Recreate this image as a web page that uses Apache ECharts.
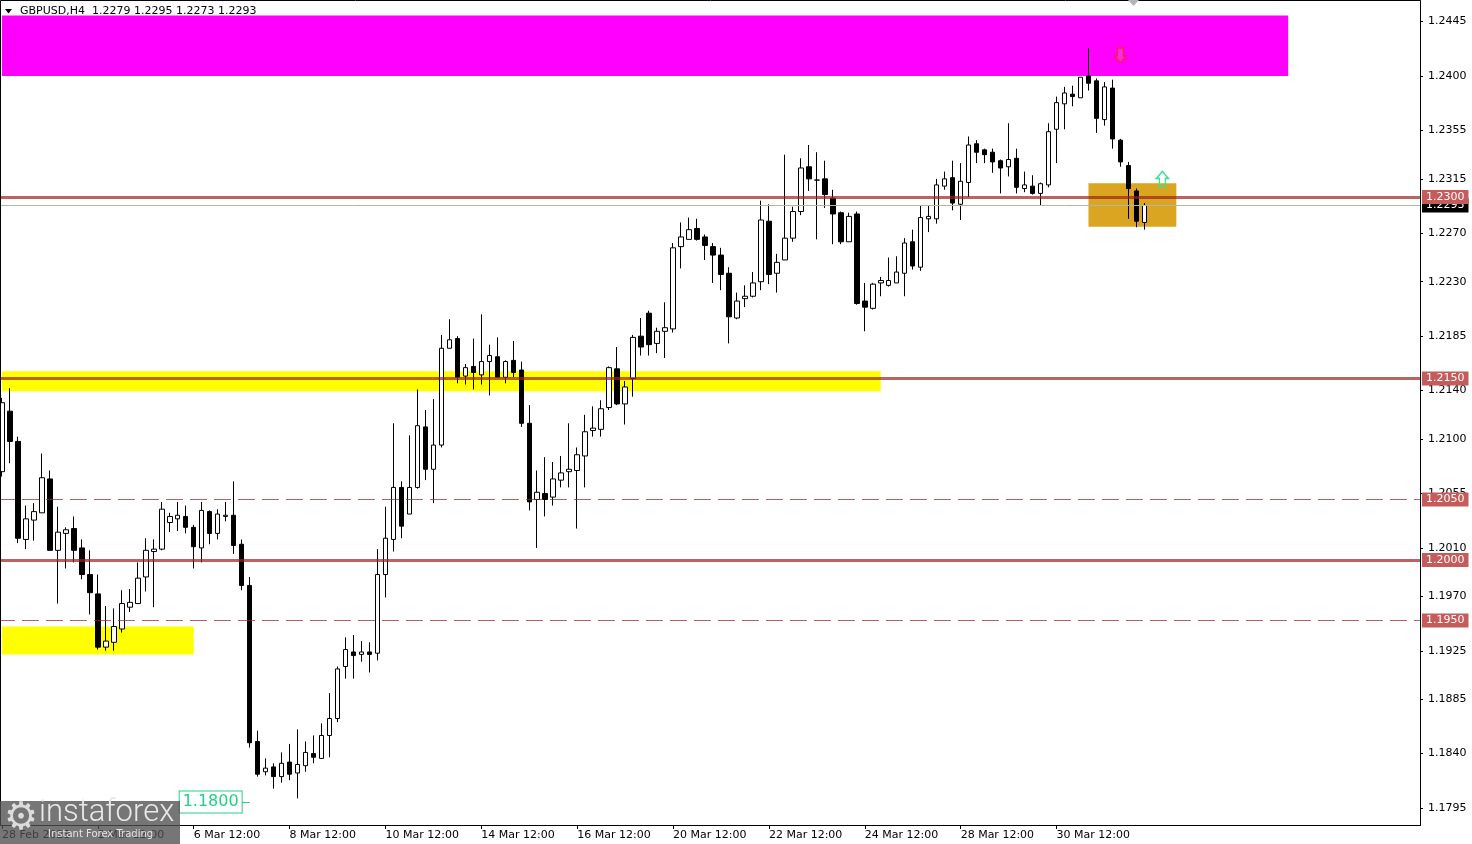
<!DOCTYPE html>
<html>
<head>
<meta charset="utf-8">
<script src="https://cdn.jsdelivr.net/npm/echarts@6/dist/echarts.min.js"></script>
<style>
html,body{margin:0;padding:0;background:#fff;overflow:hidden;}
#wrap{position:relative;width:1472px;height:844px;overflow:hidden;}
#chart{position:absolute;left:-2px;top:0;width:1474px;height:844px;}
</style>
</head>
<body>
<div id="wrap"><div id="chart"></div></div>
<script>
// ---- data (GBPUSD, H4) ----
const symbolName = 'GBPUSD,H4';
const xTickLabels = ['28 Feb 2023','2 Mar 12:00','6 Mar 12:00','8 Mar 12:00','10 Mar 12:00','14 Mar 12:00','16 Mar 12:00','20 Mar 12:00','22 Mar 12:00','24 Mar 12:00','28 Mar 12:00','30 Mar 12:00'];
const yTickValues = [1.2445,1.2400,1.2355,1.2315,1.2270,1.2230,1.2185,1.2140,1.2100,1.2055,1.2010,1.1970,1.1925,1.1885,1.1840,1.1795];

const opens = [1.2073,1.2123,1.2098,1.2017,1.2033,1.2039,1.2067,1.2008,1.2022,1.2026,
1.2010,1.1988,1.1972,1.1928,1.1932,1.1943,1.1961,1.1964,1.1986,1.2007,
1.2009,1.2031,1.2034,1.2036,1.2027,1.2010,1.2040,1.2022,1.2036,1.2037,
1.2013,1.1979,1.1850,1.1825,1.1829,1.1821,1.1833,1.1824,1.1830,1.1840,
1.1836,1.1855,1.1869,1.1912,1.1924,1.1922,1.1924,1.1923,1.1988,1.2017,
1.2060,1.2038,1.2060,1.2110,1.2075,1.2095,1.2175,1.2183,1.2152,1.2160,
1.2153,1.2164,1.2168,1.2151,1.2165,1.2157,1.2113,1.2050,1.2055,1.2052,
1.2066,1.2073,1.2074,1.2086,1.2107,1.2108,1.2126,1.2158,1.2129,1.2150,
1.2185,1.2204,1.2179,1.2189,1.2191,1.2259,1.2265,1.2274,1.2267,1.2259,
1.2252,1.2237,1.2200,1.2216,1.2218,1.2230,1.2280,1.2237,1.2248,1.2266,
1.2288,1.2325,1.2314,1.2315,1.2299,1.2287,1.2263,1.2286,1.2214,1.2208,
1.2229,1.2227,1.2229,1.2237,1.2263,1.2242,1.2282,1.2282,1.2309,1.2316,
1.2294,1.2312,1.2344,1.2339,1.2337,1.2330,1.2325,1.2332,1.2307,1.2309,
1.2303,1.2310,1.2356,1.2377,1.2385,1.2382,1.2400,1.2396,1.2364,1.2390,
1.2347,1.2326,1.2305,1.2279];
const closes = [1.2130,1.2098,1.2018,1.2034,1.2040,1.2068,1.2008,1.2023,1.2025,1.2008,
1.1988,1.1973,1.1928,1.1933,1.1945,1.1964,1.1965,1.1985,1.2008,1.2009,
1.2042,1.2036,1.2037,1.2027,1.2011,1.2041,1.2022,1.2038,1.2037,1.2012,
1.1979,1.1849,1.1823,1.1828,1.1821,1.1832,1.1823,1.1831,1.1841,1.1837,
1.1855,1.1869,1.1910,1.1926,1.1921,1.1924,1.1922,1.1988,1.2018,1.2060,
1.2028,1.2060,1.2111,1.2075,1.2095,1.2175,1.2182,1.2151,1.2159,1.2155,
1.2164,1.2169,1.2151,1.2164,1.2155,1.2113,1.2048,1.2056,1.2050,1.2067,
1.2072,1.2075,1.2087,1.2106,1.2109,1.2125,1.2159,1.2129,1.2143,1.2184,
1.2176,1.2178,1.2189,1.2192,1.2258,1.2267,1.2273,1.2265,1.2260,1.2252,
1.2236,1.2201,1.2214,1.2218,1.2229,1.2281,1.2236,1.2246,1.2266,1.2288,
1.2324,1.2315,1.2314,1.2302,1.2286,1.2263,1.2284,1.2212,1.2209,1.2228,
1.2231,1.2231,1.2238,1.2262,1.2243,1.2283,1.2284,1.2310,1.2315,1.2295,
1.2313,1.2343,1.2337,1.2335,1.2329,1.2324,1.2331,1.2308,1.2310,1.2303,
1.2311,1.2354,1.2378,1.2386,1.2383,1.2399,1.2394,1.2365,1.2391,1.2348,
1.2329,1.2307,1.2280,1.2293];
const lows = [1.2069,1.2080,1.2014,1.2009,1.2016,1.2039,1.2008,1.1964,1.1993,1.1998,
1.1984,1.1955,1.1926,1.1925,1.1925,1.1940,1.1957,1.1964,1.1974,1.1961,
1.2008,1.2023,1.2024,1.2022,1.1993,1.1998,1.2013,1.2017,1.2032,1.2005,
1.1975,1.1845,1.1821,1.1822,1.1811,1.1816,1.1818,1.1803,1.1825,1.1832,
1.1836,1.1837,1.1866,1.1902,1.1902,1.1916,1.1907,1.1917,1.1969,1.2007,
1.2018,1.2038,1.2059,1.2066,1.2047,1.2093,1.2175,1.2146,1.2145,1.2141,
1.2145,1.2136,1.2151,1.2146,1.2151,1.2110,1.2041,1.2010,1.2036,1.2045,
1.2060,1.2060,1.2026,1.2060,1.2102,1.2102,1.2124,1.2128,1.2112,1.2135,
1.2169,1.2169,1.2171,1.2167,1.2188,1.2241,1.2265,1.2264,1.2248,1.2229,
1.2223,1.2179,1.2199,1.2209,1.2217,1.2223,1.2228,1.2221,1.2248,1.2263,
1.2285,1.2305,1.2265,1.2291,1.2261,1.2261,1.2263,1.2211,1.2189,1.2207,
1.2218,1.2226,1.2229,1.2218,1.2240,1.2239,1.2271,1.2278,1.2306,1.2289,
1.2281,1.2300,1.2328,1.2328,1.2320,1.2303,1.2317,1.2303,1.2304,1.2302,
1.2293,1.2308,1.2328,1.2356,1.2375,1.2382,1.2388,1.2353,1.2359,1.2340,
1.2325,1.2282,1.2275,1.2273];
const highs = [1.2134,1.2142,1.2102,1.2045,1.2047,1.2088,1.2074,1.2044,1.2027,1.2036,
1.2017,1.2008,1.1988,1.1962,1.1960,1.1975,1.1976,1.1998,1.2018,1.2017,
1.2048,1.2039,1.2048,1.2045,1.2029,1.2048,1.2041,1.2042,1.2048,1.2065,
1.2017,1.1986,1.1859,1.1836,1.1832,1.1841,1.1848,1.1860,1.1850,1.1855,
1.1865,1.1890,1.1912,1.1936,1.1938,1.1933,1.1932,1.2009,1.2044,1.2113,
1.2065,1.2103,1.2141,1.2124,1.2133,1.2186,1.2199,1.2185,1.2162,1.2183,
1.2203,1.2178,1.2184,1.2165,1.2181,1.2164,1.2128,1.2074,1.2085,1.2081,
1.2086,1.2113,1.2093,1.2120,1.2127,1.2132,1.2160,1.2176,1.2148,1.2186,
1.2200,1.2206,1.2192,1.2213,1.2262,1.2279,1.2283,1.2282,1.2269,1.2262,
1.2258,1.2242,1.2221,1.2227,1.2238,1.2297,1.2294,1.2253,1.2335,1.2292,
1.2332,1.2343,1.2337,1.2330,1.2306,1.2288,1.2287,1.2288,1.2229,1.2229,
1.2234,1.2250,1.2251,1.2266,1.2273,1.2293,1.2293,1.2315,1.2321,1.2330,
1.2328,1.2350,1.2347,1.2340,1.2340,1.2331,1.2361,1.2340,1.2321,1.2318,
1.2312,1.2361,1.2383,1.2391,1.2392,1.2399,1.2423,1.2398,1.2395,1.2397,
1.2348,1.2329,1.2307,1.2295];

// levels drawn on the chart
const solidLevels = [1.2300, 1.2150, 1.2000];
const dashedLevels = [1.2050, 1.1950];
const currentPrice = 1.2293;
// zones: [startBar, endBar, lowPrice, highPrice]
const zoneMagenta = [0, 161, 1.2400, 1.2450];
const zoneYellowTop = [0, 110, 1.21395, 1.2156];
const zoneYellowBottom = [0, 24, 1.1922, 1.1945];
const zoneGold = [136, 147, 1.22754, 1.23113];
const supportLabel = {bar: 30, price: 1.1800};
const arrowDown = {bar: 140, price: 1.2417};
const arrowUp = {bar: 145, price: 1.2315};

const slotCount = 178;
const slots = [];
for (let i = 0; i < slotCount; i++) slots.push(String(i));
const candles = opens.map((o, i) => [o, closes[i], lows[i], highs[i]]);
const last = candles.length - 1;

const fam = 'DejaVu Sans';
const levelColor = 'rgba(160,32,32,0.7)';
const boxColor = '#c45c5c';
const DX = 2; // chart canvas is shifted 2px to the left of the page

function zone(z, color) {
  return [{xAxis: z[0], yAxis: z[3], itemStyle: {color: color}}, {xAxis: z[1], yAxis: z[2]}];
}
function levelLabel(bg) {
  return {show: true, position: 'end', distance: 2, formatter: p => Number(p.value).toFixed(4),
    backgroundColor: bg, color: '#fff', fontFamily: fam, fontSize: 11, lineHeight: 12, padding: [1, 4, 1, 4]};
}

const chart = echarts.init(document.getElementById('chart'), null, {renderer: 'canvas'});
const option = {
  animation: false,
  backgroundColor: '#ffffff',
  textStyle: {fontFamily: fam},
  title: {
    text: symbolName + '  ' + [opens[last], highs[last], lows[last], closes[last]].map(v => v.toFixed(4)).join(' '),
    left: 20 + DX, top: 6, padding: 0,
    textStyle: {fontSize: 11, fontWeight: 'normal', color: '#000', fontFamily: fam}
  },
  grid: {left: 0, top: 1, width: 1422, height: 824},
  xAxis: {
    type: 'category', data: slots, boundaryGap: true,
    axisLine: {show: true, lineStyle: {color: '#000', width: 1}},
    axisTick: {show: true, alignWithLabel: true, length: 4, lineStyle: {color: '#000'},
      interval: (i) => i % 12 === 0 && i / 12 < xTickLabels.length},
    axisLabel: {interval: 11, align: 'left', margin: 5, fontSize: 11, color: '#000', fontFamily: fam,
      formatter: (v, i) => (i % 12 === 0 && i / 12 < xTickLabels.length) ? xTickLabels[i / 12] : ''},
    splitLine: {show: false}
  },
  yAxis: {
    type: 'value', position: 'right', min: 1.1781, max: 1.2462, scale: true,
    axisLine: {show: true, onZero: false, lineStyle: {color: '#000', width: 1}},
    axisTick: {show: true, length: 3, customValues: yTickValues, lineStyle: {color: '#000'}},
    axisLabel: {customValues: yTickValues, fontSize: 11, color: '#000', margin: 8, fontFamily: fam,
      formatter: v => Number(v).toFixed(4)},
    splitLine: {show: false}
  },
  series: [
    {
      name: 'zones', type: 'line', data: [], z: 1, silent: true,
      markArea: {silent: true, data: [
        zone(zoneMagenta, '#ff00ff'),
        zone(zoneYellowTop, '#ffff00'),
        zone(zoneYellowBottom, '#ffff00'),
        zone(zoneGold, '#daa520')
      ]}
    },
    {
      name: 'GBPUSD', type: 'candlestick', data: candles, z: 2, barWidth: 5,
      itemStyle: {color: '#ffffff', color0: '#000000', borderColor: '#000000', borderColor0: '#000000', borderWidth: 1}
    },
    {
      name: 'levels', type: 'line', data: [], z: 3, silent: true,
      markLine: {
        symbol: ['none', 'none'], silent: true, precision: 4,
        data: [
          {yAxis: currentPrice, lineStyle: {color: '#aab9a0', width: 1, type: 'solid'}, label: levelLabel('#000')},
          ...dashedLevels.map(v => ({yAxis: v, lineStyle: {color: levelColor, width: 1, type: [17, 7]}, label: levelLabel(boxColor)})),
          ...solidLevels.map(v => ({yAxis: v, lineStyle: {color: levelColor, width: 3, type: 'solid'}, label: levelLabel(boxColor)}))
        ]
      }
    },
    {
      name: 'marks', type: 'line', data: [], z: 4, silent: true,
      markLine: {
        symbol: ['none', 'none'], silent: true, precision: 4,
        data: [[
          {coord: [supportLabel.bar, supportLabel.price]},
          {coord: [supportLabel.bar + 1, supportLabel.price]}
        ]],
        lineStyle: {color: '#22d184', width: 1, type: 'solid'},
        label: {show: true, position: 'start', distance: 0, formatter: supportLabel.price.toFixed(4),
          color: '#22d184', fontSize: 16, fontFamily: fam, backgroundColor: '#fff',
          borderColor: '#22d184', borderWidth: 1, padding: [3, 3, 2, 3]}
      },
      markPoint: {
        silent: true, label: {show: false},
        data: [
          {coord: [arrowDown.bar, arrowDown.price], symbol: 'path://M3,0L9,0L9,8L12,8L6,15L0,8L3,8Z', symbolSize: [12, 15],
            itemStyle: {color: 'rgba(255,120,170,0.35)', borderColor: '#f0205a', borderWidth: 1.5}},
          {coord: [arrowUp.bar, arrowUp.price], symbol: 'path://M6,0L12,7L9,7L9,15L3,15L3,7L0,7Z', symbolSize: [12, 15], symbolOffset: [2, 0],
            itemStyle: {color: 'rgba(255,255,255,0)', borderColor: '#3fe096', borderWidth: 1.5}}
        ]
      }
    }
  ],
  graphic: [
    {type: 'rect', silent: true, z: 50, shape: {x: 0.5 + DX, y: 0.5, width: 1420, height: 825}, style: {fill: null, stroke: '#000', lineWidth: 1}},
    {type: 'polygon', silent: true, z: 50, shape: {points: [[5 + DX, 9], [12 + DX, 9], [8.5 + DX, 13.5]]}, style: {fill: '#000'}},
    {type: 'polygon', silent: true, z: 50, shape: {points: [[1128 + DX, 0], [1139 + DX, 0], [1133.5 + DX, 6]]}, style: {fill: '#b4b4b4'}},
    {type: 'rect', silent: true, z: 100, shape: {x: 0, y: 801, width: 180 + DX, height: 43}, style: {fill: 'rgba(80,80,80,0.78)'}},
    {type: 'text', silent: true, z: 101, x: 4 + DX, y: 800, style: {text: '⚙', fontSize: 38, fontFamily: fam, fill: '#dcdcdc'}},
    {type: 'text', silent: true, z: 101, x: 39 + DX, y: 798, style: {text: 'instaforex', fontSize: 31, fontFamily: 'Roboto', fontWeight: 300, fill: '#e8e8e8'}},
    {type: 'text', silent: true, z: 101, x: 48 + DX, y: 829, style: {text: 'Instant Forex Trading', fontSize: 10, fontFamily: fam, fill: '#e4e4e4'}}
  ]
};
chart.setOption(option);
</script>
</body>
</html>
